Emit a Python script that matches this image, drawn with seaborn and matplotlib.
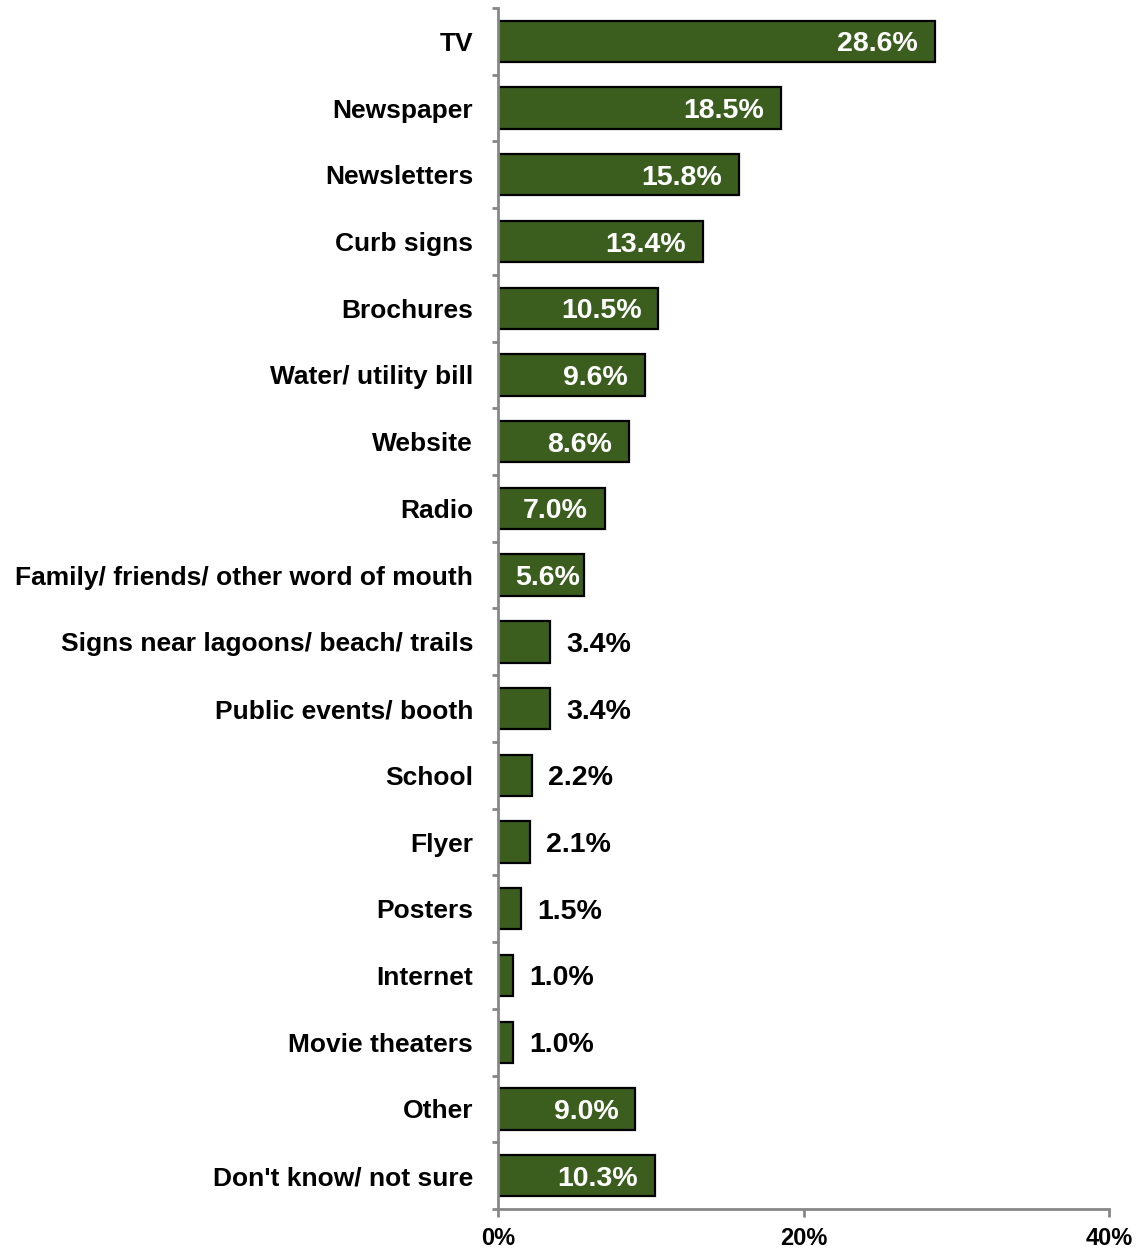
import matplotlib
matplotlib.use("Agg")
import matplotlib.pyplot as plt
import seaborn as sns
import pandas as pd
import numpy as np

categories = [
    "TV", "Newspaper", "Newsletters", "Curb signs", "Brochures",
    "Water/ utility bill", "Website", "Radio",
    "Family/ friends/ other word of mouth",
    "Signs near lagoons/ beach/ trails", "Public events/ booth",
    "School", "Flyer", "Posters", "Internet", "Movie theaters",
    "Other", "Don't know/ not sure",
]
values = [28.6, 18.5, 15.8, 13.4, 10.5, 9.6, 8.6, 7.0, 5.6,
          3.4, 3.4, 2.2, 2.1, 1.5, 1.0, 1.0, 9.0, 10.3]
x_ticks = [0, 20, 40]
x_tick_labels = ["0%", "20%", "40%"]

df = pd.DataFrame({"source": categories, "pct": values})

sns.set_theme(style="ticks")
plt.rcParams["font.family"] = ["Liberation Sans", "DejaVu Sans"]
plt.rcParams["font.weight"] = "bold"
plt.rcParams["text.color"] = "black"
plt.rcParams["xtick.labelcolor"] = "black"
plt.rcParams["ytick.labelcolor"] = "black"

DPI = 100
fig = plt.figure(figsize=(11.36, 12.49), dpi=DPI)
ax = fig.add_axes([498 / 1136, 1 - 1209 / 1249, (1109 - 498) / 1136, (1209 - 8) / 1249])

bar_color = "#3b5e1f"
sns.barplot(data=df, x="pct", y="source", order=categories, color=bar_color,
            saturation=1, width=0.62, edgecolor="black", linewidth=1.6, ax=ax)

ax.set_xlim(0, 40)
ax.set_ylim(len(categories) - 0.5, -0.5)
ax.set_xlabel("")
ax.set_ylabel("")

# value labels: white inside longer bars, black outside short ones
px = 72.0 / DPI
for i, v in enumerate(values):
    label = f"{v:.1f}%"
    if v >= 7:
        ax.annotate(label, (v, i), xytext=(-17 * px, 0), textcoords="offset points",
                    ha="right", va="center_baseline", color="white", fontsize=20.5, fontweight="bold")
    elif v >= 5:
        ax.annotate(label, (v, i), xytext=(-4 * px, 0), textcoords="offset points",
                    ha="right", va="center_baseline", color="white", fontsize=20.5, fontweight="bold")
    else:
        ax.annotate(label, (v, i), xytext=(16 * px, 0), textcoords="offset points",
                    ha="left", va="center_baseline", color="black", fontsize=20.5, fontweight="bold")

# axes styling
spine_color = "#878787"
for side in ["top", "right"]:
    ax.spines[side].set_visible(False)
for side in ["left", "bottom"]:
    ax.spines[side].set_color(spine_color)
    ax.spines[side].set_linewidth(2)

ax.set_xticks(x_ticks)
ax.set_xticklabels(x_tick_labels, fontsize=17, fontweight="bold", color="black")
ax.tick_params(axis="x", direction="out", length=6, width=2, color=spine_color, pad=7)

ax.set_yticks(np.arange(len(categories)))
ax.set_yticklabels(categories, fontsize=19, fontweight="bold", color="black")
ax.tick_params(axis="y", which="major", length=0, pad=18)
ax.set_yticks(np.arange(len(categories) + 1) - 0.5, minor=True)
ax.tick_params(axis="y", which="minor", direction="out", length=4.5, width=2, color=spine_color)
for t in ax.get_yticklabels():
    t.set_verticalalignment("center_baseline")

fig.savefig("out.png", dpi=DPI)
